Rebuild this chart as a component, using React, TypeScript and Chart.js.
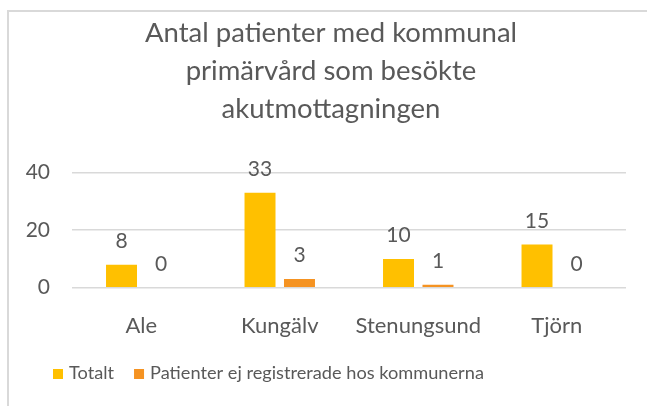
import React, { useEffect, useRef } from 'react';
import { Chart, registerables } from 'chart.js';

Chart.register(...registerables);

const categories = ['Ale', 'Kungälv', 'Stenungsund', 'Tjörn'];
const totalt = [8, 33, 10, 15];
const ejRegistrerade = [0, 3, 1, 0];
const seriesNames = ['Totalt', 'Patienter ej registrerade hos kommunerna'];
const titleLines = ['Antal patienter med kommunal', 'primärvård som besökte', 'akutmottagningen'];
const yMin = 0;
const yMax = 40;
const yStep = 20;

const TEXT = '#595959';
const GRID = '#d9d9d9';
const YELLOW = '#FFC000';
const ORANGE = '#F59322';
const FONT = 'Lato';

const dataLabels = {
  id: 'dataLabels',
  afterDatasetsDraw(chart: any) {
    const ctx = chart.ctx;
    ctx.save();
    ctx.font = `21px ${FONT}`;
    ctx.fillStyle = TEXT;
    ctx.textAlign = 'center';
    ctx.textBaseline = 'alphabetic';
    chart.data.datasets.forEach((ds: any, i: number) => {
      const meta = chart.getDatasetMeta(i);
      meta.data.forEach((el: any, j: number) => {
        ctx.fillText(String(ds.data[j]), el.x, el.y - 17);
      });
    });
    ctx.restore();
  },
};

const customTitle = {
  id: 'customTitle',
  afterDraw(chart: any) {
    const ctx = chart.ctx;
    ctx.save();
    ctx.font = `27.5px ${FONT}`;
    ctx.fillStyle = TEXT;
    ctx.textAlign = 'center';
    ctx.textBaseline = 'alphabetic';
    const cx = 322;
    titleLines.forEach((line, i) => {
      ctx.fillText(line, cx, 30 + i * 38);
    });
    ctx.restore();
  },
};

const customLegend = {
  id: 'customLegend',
  afterDraw(chart: any) {
    const ctx = chart.ctx;
    const startX = chart.chartArea.left - 19;
    const baseY = 367;
    const box = 10;
    ctx.save();
    ctx.font = `18.2px ${FONT}`;
    ctx.textBaseline = 'alphabetic';
    ctx.textAlign = 'left';
    let x = startX;
    chart.data.datasets.forEach((ds: any) => {
      ctx.fillStyle = ds.backgroundColor;
      ctx.fillRect(x, baseY - box, box, box);
      x += box + 6;
      ctx.fillStyle = TEXT;
      ctx.fillText(ds.label, x, baseY);
      x += ctx.measureText(ds.label).width + 20;
    });
    ctx.restore();
  },
};

export default function App() {
  const ref = useRef<HTMLCanvasElement | null>(null);
  useEffect(() => {
    if (!ref.current) return;
    const chart = new Chart(ref.current, {
      type: 'bar',
      data: {
        labels: categories,
        datasets: [
          { label: seriesNames[0], data: totalt, backgroundColor: YELLOW, borderWidth: 0 },
          { label: seriesNames[1], data: ejRegistrerade, backgroundColor: ORANGE, borderWidth: 0 },
        ],
      },
      options: {
        responsive: false,
        animation: false,
        devicePixelRatio: 1,
        layout: { padding: { left: 0, right: 21, top: 160.7, bottom: 68.3 } },
        datasets: {
          bar: { categoryPercentage: 0.57, barPercentage: 0.785 },
        } as any,
        plugins: {
          legend: { display: false },
          tooltip: { enabled: false },
          title: { display: false },
        },
        scales: {
          x: {
            grid: { display: false },
            border: { display: false },
            ticks: { color: TEXT, font: { family: FONT, size: 22 }, padding: 17, maxRotation: 0, autoSkip: false },
            afterFit: (s: any) => { s.height = 50; },
          },
          y: {
            min: yMin,
            max: yMax,
            grid: { color: GRID, lineWidth: 1.5, drawTicks: false },
            border: { display: false },
            ticks: { stepSize: yStep, color: TEXT, font: { family: FONT, size: 21 }, padding: 22 },
            afterFit: (s: any) => { s.width = 63; },
          },
        },
      },
      plugins: [dataLabels, customTitle, customLegend],
    });
    return () => chart.destroy();
  }, []);
  return (
    <div
      style={{
        position: 'absolute',
        left: 7,
        top: 10,
        width: 640,
        height: 396,
        borderTop: `2px solid ${GRID}`,
        borderLeft: `2px solid ${GRID}`,
        boxSizing: 'border-box',
        background: '#fff',
        overflow: 'hidden',
      }}
    >
      <canvas ref={ref} width={638} height={394} style={{ display: 'block' }} />
    </div>
  );
}
